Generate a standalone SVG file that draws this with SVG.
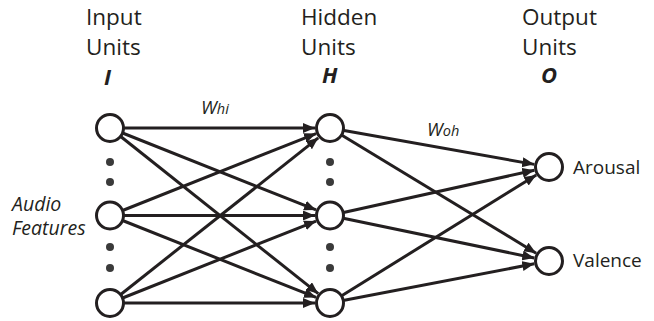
<svg xmlns="http://www.w3.org/2000/svg" width="654" height="321" viewBox="0 0 654 321">
<style>
text{font-family:"Open Sans","DejaVu Sans",sans-serif;fill:#231f20}
.h{font-size:22.5px}
.b{font-size:22px;font-weight:bold;font-style:italic}
.it{font-style:italic}
.e{stroke:#231f20;stroke-width:3;fill:none;marker-end:url(#ah)}
.n{fill:#fff;stroke:#231f20;stroke-width:3}
.d{fill:#3a3a3a}
</style>
<defs>
<marker id="ah" markerUnits="userSpaceOnUse" markerWidth="13" markerHeight="11" refX="12" refY="5" orient="auto">
<path d="M0,0 L12,5 L0,10 z" fill="#231f20"/>
</marker>
</defs>
<g id="labels">
<text class="h" x="86" y="25">Input</text>
<text class="h" x="86" y="55">Units</text>
<text class="b" x="104" y="85">I</text>
<text class="h" x="301" y="25">Hidden</text>
<text class="h" x="301" y="55">Units</text>
<text class="b" x="322" y="83">H</text>
<text class="h" x="522" y="25">Output</text>
<text class="h" x="522" y="55">Units</text>
<text class="b" x="541" y="83">O</text>
<text class="it" x="12" y="211" font-size="19.5">Audio</text>
<text class="it" x="12" y="235" font-size="19.5">Features</text>
<text class="it" x="201" y="114" font-size="18.5">W<tspan font-size="14.5">hi</tspan></text>
<text class="it" x="427" y="136" font-size="18.5">W<tspan font-size="14.5">oh</tspan></text>
</g>
<g id="connectors">
<path class="e" d="M110,128 L315,128"/>
<path class="e" d="M110,128 L316.06,209.96"/>
<path class="e" d="M110,128 L318.26,293.66"/>
<path class="e" d="M110,215.5 L316.06,133.54"/>
<path class="e" d="M110,215.5 L315,215.5"/>
<path class="e" d="M110,215.5 L316.06,297.46"/>
<path class="e" d="M110,303 L318.26,137.84"/>
<path class="e" d="M110,303 L316.06,221.04"/>
<path class="e" d="M110,303 L315,303"/>
<path class="e" d="M330,128 L534.23,164.37"/>
<path class="e" d="M330,215.5 L534.35,170.24"/>
<path class="e" d="M330,303 L536.26,174.91"/>
<path class="e" d="M330,128 L536.18,253.21"/>
<path class="e" d="M330,215.5 L534.31,257.95"/>
<path class="e" d="M330,303 L534.27,263.83"/>
</g>
<g id="input-nodes">
<circle id="i1" class="n" cx="110" cy="128" r="13.5"/>
<circle id="i2" class="n" cx="110" cy="215.5" r="13.5"/>
<circle id="i3" class="n" cx="110" cy="303" r="13.5"/>
<circle class="d" cx="110" cy="162" r="4"/>
<circle class="d" cx="110" cy="182" r="4"/>
<circle class="d" cx="110" cy="247" r="4"/>
<circle class="d" cx="110" cy="268" r="4"/>
</g>
<g id="hidden-nodes">
<circle id="h1" class="n" cx="330" cy="128" r="13.5"/>
<circle id="h2" class="n" cx="330" cy="215.5" r="13.5"/>
<circle id="h3" class="n" cx="330" cy="303" r="13.5"/>
<circle class="d" cx="330" cy="162" r="4"/>
<circle class="d" cx="330" cy="182" r="4"/>
<circle class="d" cx="330" cy="247" r="4"/>
<circle class="d" cx="330" cy="268" r="4"/>
</g>
<g id="output-arousal">
<circle class="n" cx="549" cy="167" r="13.5"/>
<text x="573" y="174" font-size="19">Arousal</text>
</g>
<g id="output-valence">
<circle class="n" cx="549" cy="261" r="13.5"/>
<text x="573" y="267" font-size="19">Valence</text>
</g>
</svg>
